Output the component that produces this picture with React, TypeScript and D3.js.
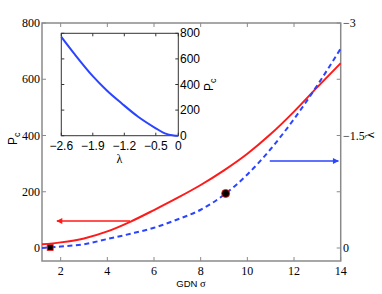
import React from 'react';
import * as d3 from 'd3';

// main plot: critical load and eigenvalue against GDN sigma
const sigma = [1.2, 2, 3, 4, 5, 6, 7, 8, 9, 10, 11, 12, 13, 14];
const pc = [13, 20, 34, 59, 94, 135, 178, 224, 276, 335, 405, 485, 572, 657];
const lambda = [0, -0.02, -0.05, -0.12, -0.19, -0.27, -0.38, -0.51, -0.71, -0.98, -1.32, -1.72, -2.17, -2.66];

// inset: Pc against lambda
const insetLambda = [-2.6, -2.3, -1.9, -1.6, -1.25, -0.9, -0.5, -0.3, -0.1, 0];
const insetPc = [772, 635, 465, 357, 250, 150, 58, 18, 2, 0];

// markers (sigma, Pc)
const squarePt = [1.55, 2];
const circlePt = [9.07, 194];

// arrows: [sigma from, sigma to, value]
const redArrow = [4.97, 1.84, 96];
const blueArrow = [10.96, 13.9, -1.16];

const xTicks = [2, 4, 6, 8, 10, 12, 14];
const leftTicks = [0, 200, 400, 600, 800];
const rightTicks = [0, -0.75, -1.5, -2.25, -3];
const rightLabels = ['0', '', '\u22121.5', '', '\u22123'];
const insetXTicks = [-2.6, -1.9, -1.2, -0.5, 0];
const insetYTicks = [0, 200, 400, 600, 800];

const RED = '#ff1a1a';
const BLUE = '#2a44ff';
const AXIS = '#8a8a8a';
const serif = '"Liberation Serif", "Times New Roman", serif';
const sans = '"Liberation Sans", Arial, sans-serif';

const App = () => {
  const left = 42, right = 340.7, top = 23, bottom = 261;
  const x = d3.scaleLinear().domain([1.2, 14]).range([left, right]);
  const yL = d3.scaleLinear().domain([0, 800]).range([248, top]);
  const yR = d3.scaleLinear().domain([0, -3]).range([248, top]);

  const il = 61.3, ir = 178.3, it = 33.3, ib = 135.7;
  const ix = d3.scaleLinear().domain([-2.6, 0]).range([il, ir]);
  const iy = d3.scaleLinear().domain([0, 800]).range([ib, it]);

  const redLine = d3.line<number>().x((_, i) => x(sigma[i])).y((d) => yL(d)).curve(d3.curveMonotoneX)(pc) || '';
  const blueLine = d3.line<number>().x((_, i) => x(sigma[i])).y((d) => yR(d)).curve(d3.curveMonotoneX)(lambda) || '';
  const insetLine = d3.line<number>().x((_, i) => ix(insetLambda[i])).y((d) => iy(d)).curve(d3.curveMonotoneX)(insetPc) || '';

  const fmt = d3.format('.1f');
  const tk = 4;

  return (
    <div style={{ position: 'absolute', left: 0, top: 0 }}>
      <svg width={382} height={294} style={{ display: 'block', background: '#fff' }}>
        <defs>
          <marker id="ahRed" viewBox="0 0 10 10" refX="9" refY="5" markerWidth="8" markerHeight="6" orient="auto" markerUnits="userSpaceOnUse">
            <path d="M0,0 L10,5 L0,10 z" fill={RED} />
          </marker>
          <marker id="ahBlue" viewBox="0 0 10 10" refX="9" refY="5" markerWidth="8" markerHeight="6" orient="auto" markerUnits="userSpaceOnUse">
            <path d="M0,0 L10,5 L0,10 z" fill={BLUE} />
          </marker>
        </defs>

        {/* main box */}
        <rect x={left} y={top} width={right - left} height={bottom - top} fill="none" stroke={AXIS} strokeWidth={1.5} />

        {xTicks.map((t) => (
          <g key={'x' + t}>
            <line x1={x(t)} x2={x(t)} y1={bottom} y2={bottom - tk} stroke={AXIS} />
            <line x1={x(t)} x2={x(t)} y1={top} y2={top + tk} stroke={AXIS} />
            <text x={x(t)} y={275} textAnchor="middle" fontFamily={serif} fontSize={12}>{t}</text>
          </g>
        ))}
        {leftTicks.map((t) => (
          <g key={'l' + t}>
            <line x1={left} x2={left + tk} y1={yL(t)} y2={yL(t)} stroke={AXIS} />
            <text x={40} y={yL(t) + 4} textAnchor="end" fontFamily={serif} fontSize={12}>{t}</text>
          </g>
        ))}
        {rightTicks.map((t, i) => (
          <g key={'r' + i}>
            <line x1={right} x2={right - tk} y1={yR(t)} y2={yR(t)} stroke={AXIS} />
            <text x={343} y={yR(t) + 4} textAnchor="start" fontFamily={serif} fontSize={12}>{rightLabels[i]}</text>
          </g>
        ))}

        {/* axis titles */}
        <text x={191} y={287} textAnchor="middle" fontFamily={sans} fontSize={9.5}>
          GDN <tspan fontFamily={serif} fontSize={10.5}>σ</tspan>
        </text>
        <text transform="translate(17,145) rotate(-90)" fontFamily={sans} fontSize={12}>
          P<tspan dy={3} fontSize={9}>c</tspan>
        </text>
        <text transform="translate(374,135) rotate(-90)" textAnchor="middle" fontFamily={serif} fontSize={13}>λ</text>

        {/* curves */}
        <path d={redLine} fill="none" stroke={RED} strokeWidth={2} />
        <path d={blueLine} fill="none" stroke={BLUE} strokeWidth={2} strokeDasharray="5,3.5" />

        {/* arrows */}
        <line x1={x(redArrow[0])} x2={x(redArrow[1])} y1={yL(redArrow[2])} y2={yL(redArrow[2])} stroke={RED} strokeWidth={1.3} markerEnd="url(#ahRed)" />
        <line x1={x(blueArrow[0])} x2={x(blueArrow[1])} y1={yR(blueArrow[2])} y2={yR(blueArrow[2])} stroke={BLUE} strokeWidth={1.3} markerEnd="url(#ahBlue)" />

        {/* markers */}
        <rect x={x(squarePt[0]) - 3} y={yL(squarePt[1]) - 3} width={6} height={6} fill="#000" stroke={RED} strokeWidth={0.8} />
        <circle cx={x(circlePt[0])} cy={yL(circlePt[1])} r={4} fill="#000" stroke={RED} strokeWidth={0.8} />

        {/* inset */}
        <rect x={il} y={it} width={ir - il} height={ib - it} fill="#fff" stroke="#333" strokeWidth={1} />
        {insetXTicks.map((t) => (
          <g key={'ix' + t}>
            <line x1={ix(t)} x2={ix(t)} y1={ib} y2={ib - 3} stroke="#333" />
            <line x1={ix(t)} x2={ix(t)} y1={it} y2={it + 3} stroke="#333" />
            <text x={ix(t)} y={150} textAnchor="middle" fontFamily={sans} fontSize={12}>{t === 0 ? '0' : fmt(t)}</text>
          </g>
        ))}
        {insetYTicks.map((t) => (
          <g key={'iy' + t}>
            <line x1={ir} x2={ir - 3} y1={iy(t)} y2={iy(t)} stroke="#333" />
            <line x1={il} x2={il + 3} y1={iy(t)} y2={iy(t)} stroke="#333" />
            <text x={180} y={iy(t) + 4} textAnchor="start" fontFamily={sans} fontSize={12}>{t}</text>
          </g>
        ))}
        <text x={119.5} y={163} textAnchor="middle" fontFamily={serif} fontSize={12}>λ</text>
        <text transform="translate(213,91) rotate(-90)" fontFamily={sans} fontSize={12}>
          P<tspan dy={3} fontSize={9}>c</tspan>
        </text>
        <path d={insetLine} fill="none" stroke={BLUE} strokeWidth={2} />
      </svg>
    </div>
  );
};

export default App;
